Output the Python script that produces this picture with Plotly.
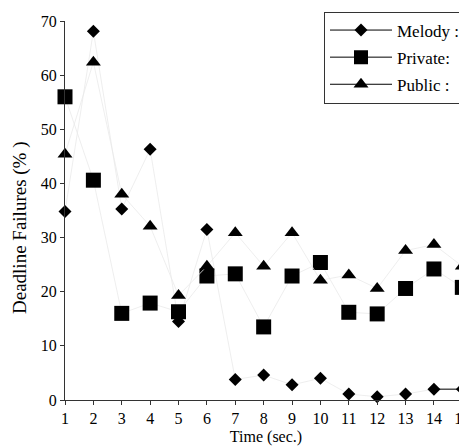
import plotly.graph_objects as go

time_s = list(range(1, 16))
melody = [34.8, 68.1, 35.3, 46.3, 14.5, 31.5, 3.8, 4.6, 2.8, 4.0, 1.1, 0.6, 1.1, 2.0, 2.0]
private = [56.0, 40.6, 16.0, 17.9, 16.3, 22.9, 23.3, 13.5, 22.9, 25.4, 16.2, 15.9, 20.6, 24.2, 20.8]
public = [45.4, 62.4, 38.0, 32.1, 19.3, 24.7, 30.9, 24.7, 30.9, 22.1, 23.1, 20.6, 27.6, 28.7, 24.7]
series_names = ["Melody :", "Private:", "Public :"]
y_ticks = [0, 10, 20, 30, 40, 50, 60, 70]

FONT = "Liberation Serif"
faint = "#eaeaea"
OFF = 8  # page body margin

fig = go.Figure()
symbols = ["diamond", "square", "triangle-up"]
sizes = [10, 15, 13]
for vals, sym, sz in zip([melody, private, public], symbols, sizes):
    fig.add_trace(go.Scatter(
        x=time_s, y=vals, mode="lines+markers",
        line=dict(color=faint, width=0.8),
        marker=dict(symbol=sym, size=sz, color="black", line=dict(width=0)),
        showlegend=False, cliponaxis=False,
    ))

# darker final segment of Melody
fig.add_trace(go.Scatter(x=time_s[13:], y=melody[13:], mode="lines",
                         line=dict(color="black", width=1), showlegend=False,
                         cliponaxis=False, hoverinfo="skip"))

# legend entries
for name, sym, sz in zip(series_names, symbols, sizes):
    fig.add_trace(go.Scatter(
        x=[None], y=[None], mode="lines+markers", name=name,
        line=dict(color="black", width=1),
        marker=dict(symbol=sym, size=min(sz, 14), color="black"),
        legendgroup=name,
    ))

W, H = 467 - OFF, 448 - OFF
L, T = 65 - OFF, 21 - OFF
PW, PH = W - L, 379

fig.update_layout(
    width=W, height=H,
    margin=dict(l=L, r=0, t=T, b=H - T - PH, autoexpand=False),
    paper_bgcolor="white", plot_bgcolor="white",
    font=dict(family=FONT, size=16, color="black"),
    legend=dict(
        x=(324 - 65) / PW, y=1 + 9.5 / PH, xanchor="left", yanchor="top",
        bordercolor="#333", borderwidth=1, bgcolor="white",
        font=dict(family=FONT, size=17, color="black"),
        itemwidth=62, tracegroupgap=2,
    ),
    xaxis=dict(
        range=[1, 1 + PW / 28.38], tickmode="array", tickvals=time_s,
        ticktext=[str(t) for t in time_s], ticklabeloverflow="allow",
        showgrid=False, zeroline=False, showline=True, linecolor="#333", linewidth=1,
        ticks="outside", ticklen=4, tickcolor="#333",
        tickfont=dict(family=FONT, size=16),
        title=dict(text="Time (sec.)", font=dict(family=FONT, size=16), standoff=4),
    ),
    yaxis=dict(
        range=[0, 70], tickmode="array", tickvals=y_ticks,
        showgrid=False, zeroline=False, showline=True, linecolor="#333", linewidth=1,
        ticks="outside", ticklen=4, tickcolor="#333",
        tickfont=dict(family=FONT, size=16),
    ),
    annotations=[dict(
        text="Deadline Failures (% )", textangle=-90, showarrow=False,
        xref="paper", yref="paper", x=(20 - 65) / PW, y=(400 - 228) / PH,
        xanchor="center", yanchor="middle",
        font=dict(family=FONT, size=19, color="black"),
    )],
)

fig.write_html("out.html")
